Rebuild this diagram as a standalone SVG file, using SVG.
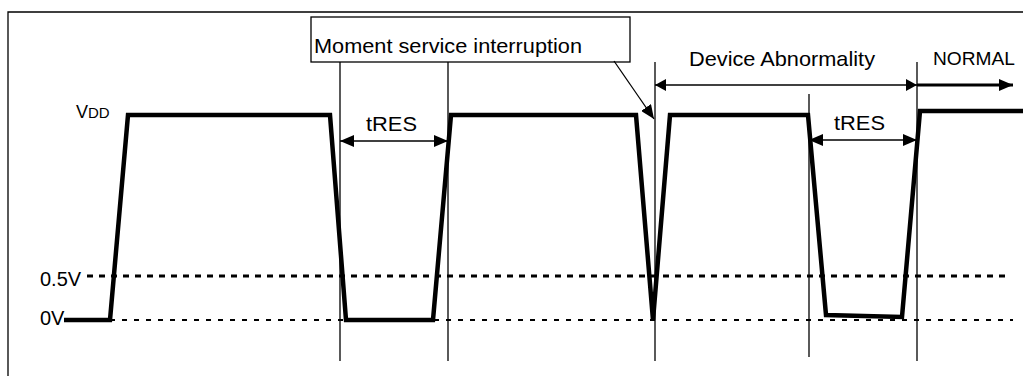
<svg xmlns="http://www.w3.org/2000/svg" width="1023" height="376" viewBox="0 0 1023 376">
<defs>
<style>
text{font-family:"Liberation Sans",Arial,sans-serif;fill:#000}
.thin{stroke:#000;stroke-width:1.3;fill:none}
.wave{stroke:#000;stroke-width:4.5;fill:none;stroke-linejoin:miter}
.d05{stroke:#000;stroke-width:3;stroke-dasharray:6 6;fill:none}
.d0{stroke:#000;stroke-width:2;stroke-dasharray:5 7;fill:none}
</style>
<marker id="ah" viewBox="0 0 14 12" refX="14" refY="6" markerWidth="14" markerHeight="12" markerUnits="userSpaceOnUse" orient="auto-start-reverse">
<path d="M0,0 L14,6 L0,12 Z" fill="#000"/>
</marker>
<marker id="ahs" viewBox="0 0 11 12" refX="11" refY="6" markerWidth="11" markerHeight="12" markerUnits="userSpaceOnUse" orient="auto-start-reverse">
<path d="M0,0 L11,6 L0,12 Z" fill="#000"/>
</marker>
</defs>
<rect width="1023" height="376" fill="#fff"/>
<g id="frame">
<path class="thin" d="M8,376 L8,12 L1023,12" stroke-width="1.6"/>
</g>
<g id="levels">
<line class="d05" x1="87" y1="276" x2="1010" y2="276"/>
<line class="d0" x1="110" y1="320" x2="1013" y2="320"/>
<text x="40" y="286" font-size="20">0.5V</text>
<text x="40" y="325" font-size="20">0V</text>
<text x="76" y="118" font-size="18">V<tspan font-size="15">DD</tspan></text>
</g>
<g id="waveform">
<path class="wave" d="M64,320 L110,320 L128,115 L330,115 L346,320 L433,320 L451,115 L636,115 L653,320 L670,115 L808,115 L826,315 L902,317 L920,111 L1023,111"/>
</g>
<g id="markers">
<line class="thin" x1="340" y1="62" x2="340" y2="361"/>
<line class="thin" x1="448" y1="62" x2="448" y2="361"/>
<line class="thin" x1="655" y1="62" x2="655" y2="361"/>
<line class="thin" x1="809" y1="94" x2="809" y2="357"/>
<line class="thin" x1="917" y1="62" x2="917" y2="361"/>
</g>
<g id="box">
<rect x="311" y="17" width="319" height="45" fill="#fff" stroke="#000" stroke-width="1.3"/>
<text x="314" y="53" font-size="21" textLength="268" lengthAdjust="spacingAndGlyphs">Moment service interruption</text>
</g>
<g id="connectors">
<line class="thin" x1="614" y1="61" x2="654" y2="119" marker-end="url(#ah)"/>
<line class="thin" x1="340" y1="141" x2="448" y2="141" marker-start="url(#ah)" marker-end="url(#ah)"/>
<line class="thin" x1="809" y1="140" x2="917" y2="140" marker-start="url(#ah)" marker-end="url(#ah)"/>
<line class="thin" x1="655" y1="85" x2="917" y2="85" marker-start="url(#ahs)" marker-end="url(#ahs)"/>
<line x1="917" y1="85" x2="1013" y2="85" stroke="#000" stroke-width="3" marker-end="url(#ah)"/>
</g>
<g id="labels">
<text x="366" y="131" font-size="21" textLength="51" lengthAdjust="spacingAndGlyphs">tRES</text>
<text x="834" y="130" font-size="21" textLength="51" lengthAdjust="spacingAndGlyphs">tRES</text>
<text x="689" y="66" font-size="21" textLength="186" lengthAdjust="spacingAndGlyphs">Device Abnormality</text>
<text x="933" y="65" font-size="18" textLength="82" lengthAdjust="spacingAndGlyphs">NORMAL</text>
</g>
</svg>
